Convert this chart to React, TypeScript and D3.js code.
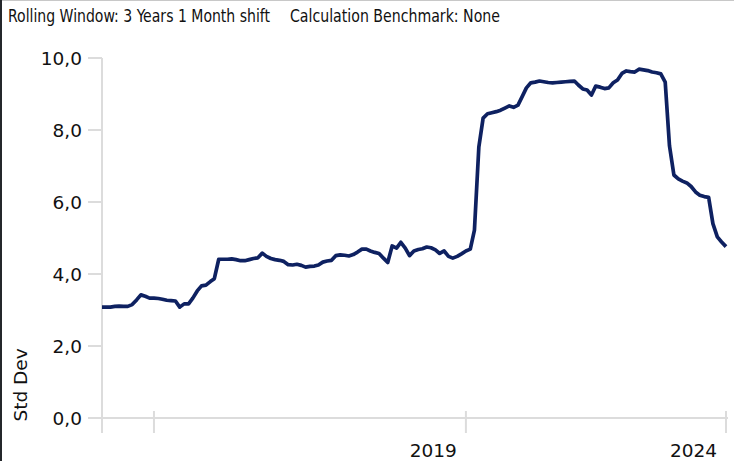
import React, { useEffect, useRef } from 'react'
import * as d3 from 'd3'

// monthly std dev values, Jan 2013 .. Jan 2025
const stdDev = [
  3.08, 3.08, 3.08, 3.10, 3.11, 3.10, 3.10, 3.15, 3.28, 3.42,
  3.38, 3.33, 3.33, 3.32, 3.30, 3.27, 3.26, 3.25, 3.08, 3.17,
  3.17, 3.33, 3.53, 3.67, 3.69, 3.79, 3.87, 4.41, 4.41, 4.41,
  4.42, 4.40, 4.37, 4.37, 4.40, 4.43, 4.45, 4.58, 4.49, 4.43,
  4.40, 4.38, 4.35, 4.26, 4.25, 4.27, 4.24, 4.19, 4.21, 4.22,
  4.25, 4.33, 4.36, 4.38, 4.51, 4.53, 4.52, 4.50, 4.54, 4.61,
  4.69, 4.69, 4.64, 4.60, 4.57, 4.44, 4.32, 4.78, 4.72, 4.88,
  4.72, 4.51, 4.64, 4.68, 4.70, 4.75, 4.73, 4.67, 4.57, 4.64,
  4.49, 4.44, 4.49, 4.56, 4.64, 4.69, 5.22, 7.53, 8.33, 8.45,
  8.48, 8.51, 8.55, 8.61, 8.67, 8.63, 8.69, 8.94, 9.17, 9.31,
  9.33, 9.36, 9.34, 9.32, 9.31, 9.32, 9.33, 9.34, 9.35, 9.36,
  9.25, 9.14, 9.11, 8.97, 9.22, 9.19, 9.15, 9.17, 9.31, 9.39,
  9.57, 9.64, 9.62, 9.61, 9.69, 9.67, 9.65, 9.61, 9.59, 9.56,
  9.33, 7.56, 6.75, 6.64, 6.58, 6.53, 6.43, 6.28, 6.19, 6.15,
  6.13, 5.40, 5.03, 4.89, 4.76
]
const startDate = new Date(2013, 0, 1)
const dates = stdDev.map((d, i) => d3.timeMonth.offset(startDate, i))

const yTicks = [0, 2, 4, 6, 8, 10]
const xTickDates = [new Date(2014, 0, 1), new Date(2020, 0, 1), new Date(2025, 0, 1)]
const xTickLabels = ['', '2019', '2024']

const header1 = 'Rolling Window: 3 Years 1 Month shift'
const header2 = 'Calculation Benchmark: None'
const yTitle = 'Std Dev'

export default function App() {
  const ref = useRef<SVGSVGElement>(null)

  useEffect(() => {
    var svg = d3.select(ref.current)
    svg.selectAll('*').remove()
    var font = 'DejaVu Sans, Verdana, sans-serif'
    var headFont = 'DejaVu Sans Condensed, sans-serif'

    var x = d3.scaleTime().domain([startDate, dates[dates.length - 1]]).range([102, 726])
    var y = d3.scaleLinear().domain([0, 10]).range([418, 58])

    // frame
    svg.append('rect').attr('x', 0).attr('y', 0).attr('width', 734).attr('height', 461).attr('fill', '#fff')
    svg.append('line').attr('x1', 0).attr('x2', 734).attr('y1', 0.5).attr('y2', 0.5)
      .attr('stroke', '#c8c8c8').attr('stroke-width', 1)
    svg.append('rect').attr('x', 0).attr('y', 0).attr('width', 2).attr('height', 461).attr('fill', '#24272b')

    // header
    svg.append('text').attr('x', 8).attr('y', 22).text(header1)
      .attr('font-family', headFont).attr('font-size', 17.5).attr('fill', '#111')
      .attr('textLength', 262).attr('lengthAdjust', 'spacingAndGlyphs')
    svg.append('text').attr('x', 290).attr('y', 22).text(header2)
      .attr('font-family', headFont).attr('font-size', 17.5).attr('fill', '#111')
      .attr('textLength', 210).attr('lengthAdjust', 'spacingAndGlyphs')

    var grid = '#dcdcdc'

    // y axis
    svg.append('line').attr('x1', 102).attr('x2', 102).attr('y1', y(10)).attr('y2', 433)
      .attr('stroke', grid).attr('stroke-width', 2)
    var yt = svg.append('g').selectAll('g').data(yTicks).enter().append('g')
    yt.append('line').attr('x1', 88).attr('x2', 102).attr('y1', d => y(d)).attr('y2', d => y(d))
      .attr('stroke', grid).attr('stroke-width', 2)
    yt.append('text').attr('x', 82).attr('y', d => y(d)).attr('dy', '0.36em')
      .attr('text-anchor', 'end').attr('font-family', font).attr('font-size', 18.5).attr('fill', '#111')
      .text(d => d3.format('.1f')(d).replace('.', ','))

    // x axis
    svg.append('line').attr('x1', 88).attr('x2', 728).attr('y1', y(0)).attr('y2', y(0))
      .attr('stroke', grid).attr('stroke-width', 2)
    var xt = svg.append('g').selectAll('g').data(xTickDates).enter().append('g')
    xt.append('line').attr('x1', d => x(d)).attr('x2', d => x(d)).attr('y1', 411).attr('y2', 433)
      .attr('stroke', grid).attr('stroke-width', 2)
    xt.append('text').attr('x', d => x(d) - 9).attr('y', 457)
      .attr('text-anchor', 'end').attr('font-family', font).attr('font-size', 18.5).attr('fill', '#111')
      .text((d, i) => xTickLabels[i])

    // y title
    svg.append('text').attr('transform', 'translate(27,385) rotate(-90)')
      .attr('text-anchor', 'middle').attr('font-family', font).attr('font-size', 18.5).attr('fill', '#111')
      .text(yTitle)

    // line
    var line = d3.line<number>().x((d, i) => x(dates[i])).y(d => y(d))
    svg.append('path').attr('d', line(stdDev))
      .attr('fill', 'none').attr('stroke', '#0e2161').attr('stroke-width', 3.7)
      .attr('stroke-linejoin', 'round')
  }, [])

  return (
    <svg ref={ref} width={734} height={461} style={{ position: 'absolute', left: 0, top: 0 }}></svg>
  )
}
